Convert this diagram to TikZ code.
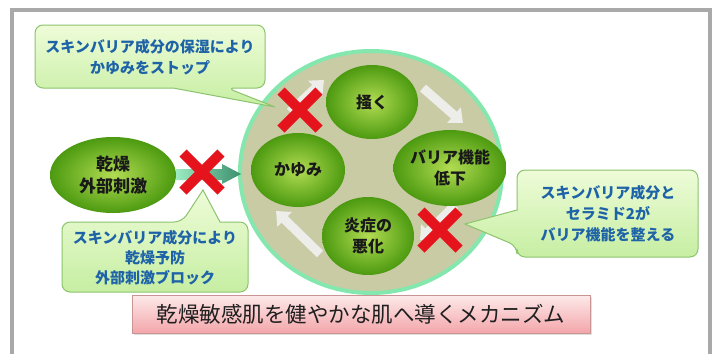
\documentclass[tikz,border=0pt]{standalone}
\usepackage{fontspec}
\newfontfamily\jp{Noto Sans CJK JP}
\usetikzlibrary{shapes.geometric,arrows.meta,shadows,calc}
\definecolor{rimgreen}{HTML}{84E8AE}
\definecolor{circfill}{HTML}{C9CBA5}
\definecolor{ellin}{HTML}{B2DC52}
\definecolor{ellout}{HTML}{4C9A10}
\definecolor{callfillA}{HTML}{EEFCD8}
\definecolor{callfillB}{HTML}{C6EEA2}
\definecolor{callline}{HTML}{8CC46E}
\definecolor{calltext}{HTML}{1E63A8}
\definecolor{xred}{HTML}{E5141C}
\definecolor{arrgray}{HTML}{EDEDEA}
\definecolor{framegray}{HTML}{A9A9A9}
\definecolor{pinktop}{HTML}{FDEAEA}
\definecolor{pinkbot}{HTML}{F3A6AA}
\definecolor{pinkline}{HTML}{C99494}
\definecolor{mint}{HTML}{9CEBC2}
\definecolor{teal}{HTML}{3A8F6C}
\begin{document}
\begin{tikzpicture}[x=1pt,y=-1pt,
 bubble/.style={ellipse, inner color=ellin, outer color=ellout, inner sep=0pt, align=center, text=black!90, font=\jp\bfseries\fontsize{16}{21}\selectfont},
 callout/.style={draw=callline, line width=1pt, top color=callfillA, bottom color=callfillB},
 calltxt/.style={align=center, text=calltext, font=\jp\bfseries\fontsize{15}{21}\selectfont, inner sep=0pt},
 xmark/.style={draw=xred, line width=10pt},
 cyc/.style={draw=arrgray, line width=9pt, -{Triangle[length=12pt,width=20pt]}}
]
\useasboundingbox (0,0) rectangle (715,354);
\fill[white] (0,0) rectangle (715,354);
% frame
\draw[framegray, line width=4pt] (12,354) -- (12,10) -- (710,10) -- (710,354);
% big circle
\node[ellipse, draw=rimgreen, line width=4pt, fill=circfill, minimum width=262pt, minimum height=242pt, inner sep=0pt] (circ) at (371,172) {};
% cycle arrows
\coordinate (a1s) at (290,112); \coordinate (a1e) at (324,80);
\coordinate (a2s) at (423,88); \coordinate (a2e) at (463,123);
\coordinate (a3s) at (455,205); \coordinate (a3e) at (420,240);
\coordinate (a4s) at (320,254); \coordinate (a4e) at (276,211);
\draw[cyc] (a1s) -- (a1e);
\draw[cyc] (a2s) -- (a2e);
\draw[cyc] (a3s) -- (a3e);
\draw[cyc] (a4s) -- (a4e);
% inner bubbles
\node[bubble, minimum width=92pt, minimum height=74pt] (kaku) at (372,102) {掻く};
\node[bubble, minimum width=94pt, minimum height=74pt] (kayumi) at (298,170) {かゆみ};
\node[bubble, minimum width=96pt, minimum height=76pt] (barrier) at (450,168) {バリア機能\\低下};
\node[bubble, minimum width=92pt, minimum height=78pt] (ensho) at (368,236) {炎症の\\悪化};
% left bubble
\node[bubble, minimum width=126pt, minimum height=76pt, font=\jp\bfseries\fontsize{17}{22}\selectfont] (kanso) at (113,175) {乾燥\\外部刺激};
% left arrow
\shade[left color=mint, right color=teal] (176,169) -- (222,169) -- (222,164) -- (241,174) -- (222,184) -- (222,180) -- (176,180) -- cycle;
% callouts
\path[callout] (275,107) -- (173,88) [rounded corners=8pt] -- (35,88) -- (35,25) -- (265,25) -- (265,88) -- (227,88) [sharp corners] -- cycle;
\node[calltxt] (c1) at (150,57.5) {スキンバリア成分の保湿により\\かゆみをストップ};
\path[callout] (203,190) -- (220,222) [rounded corners=8pt] -- (248,222) -- (248,292) -- (62,292) -- (62,222) -- (182,222) [sharp corners] -- cycle;
\node[calltxt, font=\jp\bfseries\fontsize{15}{20}\selectfont] (c2) at (155,258) {スキンバリア成分により\\乾燥予防\\外部刺激ブロック};
\path[callout] (465,224) -- (517,210) [rounded corners=8pt] -- (517,170) -- (698,170) -- (698,257) -- (517,257) -- (517,246) [sharp corners] -- cycle;
\node[calltxt] (c3) at (608,214) {スキンバリア成分と\\セラミド2が\\バリア機能を整える};
% X marks
\foreach \n/\cx/\cy in {xl/202/172, xt/300/110, xr/440/230}{
  \coordinate (\n) at (\cx,\cy);
  \draw[xmark] ($(\n)+(-19,-19)$) -- ($(\n)+(19,19)$);
  \draw[xmark] ($(\n)+(19,-19)$) -- ($(\n)+(-19,19)$);
}
% title
\node[draw=pinkline, line width=0.8pt, top color=pinktop, bottom color=pinkbot, minimum width=458pt, minimum height=38pt, inner sep=0pt, drop shadow={opacity=0.25, shadow xshift=1.5pt, shadow yshift=-1.5pt}, font=\jp\fontsize{21.5}{24}\selectfont, text=black!88] (title) at (361,314) {乾燥敏感肌を健やかな肌へ導くメカニズム};
\end{tikzpicture}
\end{document}
